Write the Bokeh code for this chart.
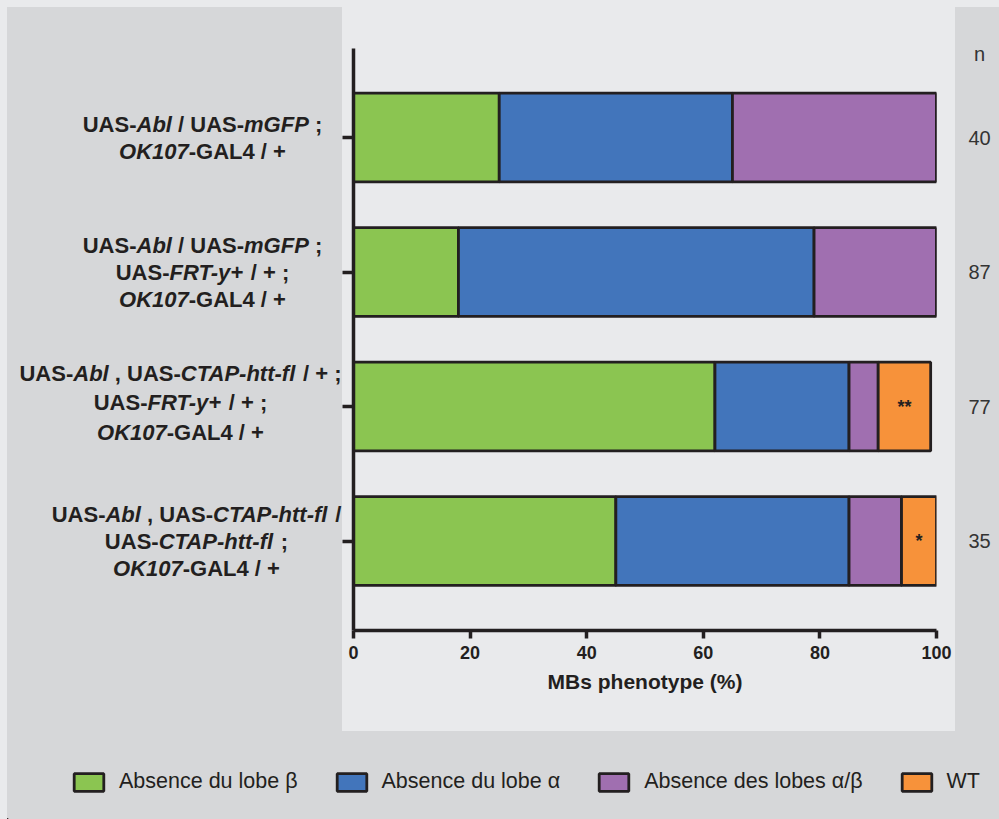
import re
from bokeh.plotting import figure
from bokeh.layouts import row, column
from bokeh.models import (ColumnDataSource, Range1d, FixedTicker, Legend, LegendItem, Spacer)
from bokeh.core.properties import value
from bokeh.embed import file_html
from bokeh.resources import INLINE

# ---------------- data ----------------
genotypes = [
    "UAS-<i>Abl</i> / UAS-<i>mGFP</i> ;\n<i>OK107</i>-GAL4 / +",
    "UAS-<i>Abl</i> / UAS-<i>mGFP</i> ;\nUAS-<i>FRT-y+</i> / + ;\n<i>OK107</i>-GAL4 / +",
    "UAS-<i>Abl</i> , UAS-<i>CTAP-htt-fl</i> / + ;\nUAS-<i>FRT-y+</i> / + ;\n<i>OK107</i>-GAL4 / +",
    "UAS-<i>Abl</i> , UAS-<i>CTAP-htt-fl</i> /\nUAS-<i>CTAP-htt-fl</i> ;\n<i>OK107</i>-GAL4 / +",
]
absence_beta = [25, 18, 62, 45]
absence_alpha = [40, 61, 23, 40]
absence_alpha_beta = [35, 21, 5, 9]
wild_type = [0, 0, 9, 6]
n_values = [40, 87, 77, 35]
n_header = "n"
significance = ["", "", "**", "*"]
series_labels = ["Absence du lobe β", "Absence du lobe α", "Absence des lobes α/β", "WT"]
x_ticks = [0, 20, 40, 60, 80, 100]
x_title = "MBs phenotype (%)"

# ---------------- style ----------------
COLORS = ["#8bc551", "#4275bb", "#a06fb0", "#f7923a"]
INK = "#231f20"
OUTER = "#d6d7d9"
PANEL = "#e9eaec"
FONT = "Liberation Sans"

W, H = 999, 819
STRIP = 7                                     # light strip at top/left
PANEL_L, PANEL_R, PANEL_B = 342, 955, 731   # light panel in page px
FL, FR, FT, FB = 353, 936, 48, 630          # frame edges in page px
ROW_H = PANEL_B - STRIP
BT, BB = FT - STRIP, PANEL_B - FB            # top / bottom borders of the row figures
X0, X1 = 0, 100
Y_TOP, Y_BOT = -0.662, 3.665


def dy(py):
    return Y_TOP + (py - FT) * (Y_BOT - Y_TOP) / (FB - FT)


def bare(width, height, xr, yr, fill, bt=0, bb=0):
    f = figure(width=width, height=height, output_backend="svg", toolbar_location=None,
               x_range=xr, y_range=yr, x_axis_location=None, y_axis_location=None,
               min_border_left=0, min_border_right=0, min_border_top=bt, min_border_bottom=bb,
               styles={"background-color": fill})
    f.background_fill_color = fill
    f.border_fill_color = fill
    f.outline_line_color = None
    f.grid.visible = False
    return f


# ---------------- main chart ----------------
yr = Range1d(Y_BOT, Y_TOP)
p = figure(width=PANEL_R - PANEL_L, height=ROW_H, output_backend="svg", toolbar_location=None,
           x_range=Range1d(X0, X1), y_range=yr,
           min_border_left=FL - PANEL_L, min_border_right=PANEL_R - FR,
           min_border_top=BT, min_border_bottom=BB, styles={"background-color": PANEL})
p.border_fill_color = PANEL
p.background_fill_color = PANEL
p.outline_line_color = None
p.grid.visible = False

ys = list(range(len(genotypes)))
src = ColumnDataSource(dict(y=ys, g=absence_beta, b=absence_alpha, p=absence_alpha_beta,
                            w=wild_type))
p.hbar_stack(["g", "b", "p", "w"], y="y", height=0.66, source=src, color=COLORS,
             line_color=INK, line_width=2.8)

xa = p.xaxis[0]
xa.ticker = FixedTicker(ticks=x_ticks)
xa.axis_line_width = 3.5
xa.axis_line_color = INK
xa.major_tick_line_width = 3.5
xa.major_tick_line_color = INK
xa.major_tick_in = 0
xa.major_tick_out = 8
xa.minor_tick_line_color = None
xa.major_label_text_font = FONT
xa.major_label_text_font_style = "bold"
xa.major_label_text_font_size = "18px"
xa.major_label_text_color = INK
xa.major_label_standoff = 7
xa.axis_label = x_title
xa.axis_label_text_font = FONT
xa.axis_label_text_font_style = "bold"
xa.axis_label_text_font_size = "21px"
xa.axis_label_text_color = INK
xa.axis_label_standoff = 8

ya = p.yaxis[0]
ya.ticker = FixedTicker(ticks=ys)
ya.major_label_overrides = {i: "" for i in ys}
ya.major_label_text_font_size = "0px"
ya.major_label_standoff = 0
ya.axis_line_width = 3.5
ya.axis_line_color = INK
ya.major_tick_line_width = 3.5
ya.major_tick_line_color = INK
ya.major_tick_in = 0
ya.major_tick_out = 11
ya.minor_tick_line_color = None

# significance stars on the WT segments
sx, sy, st = [], [], []
for i in ys:
    if significance[i]:
        left = absence_beta[i] + absence_alpha[i] + absence_alpha_beta[i]
        sx.append(left + wild_type[i] / 2.0)
        sy.append(i)
        st.append(significance[i])
p.text(x="x", y="y", text="t", source=ColumnDataSource(dict(x=sx, y=sy, t=st)),
       text_font=value(FONT), text_font_size="18px", text_font_style="bold",
       text_color=INK, text_align="center", text_baseline="middle")

# ---------------- genotype labels (left) ----------------
AFM = {' ': 278, '+': 584, ',': 278, '-': 333, '/': 278, ';': 333,
       'A': 722, 'B': 722, 'C': 722, 'D': 722, 'E': 667, 'F': 611, 'G': 778, 'H': 722,
       'I': 278, 'J': 556, 'K': 722, 'L': 611, 'M': 833, 'N': 722, 'O': 778, 'P': 667,
       'Q': 778, 'R': 722, 'S': 667, 'T': 611, 'U': 722, 'V': 667, 'W': 944, 'X': 667,
       'Y': 667, 'Z': 611, 'a': 556, 'b': 611, 'c': 556, 'd': 611, 'e': 556, 'f': 333,
       'g': 611, 'h': 611, 'i': 278, 'j': 278, 'k': 556, 'l': 278, 'm': 889, 'n': 611,
       'o': 611, 'p': 611, 'q': 611, 'r': 389, 's': 556, 't': 333, 'u': 611, 'v': 556,
       'w': 778, 'x': 556, 'y': 556, 'z': 500}
for ch in "0123456789":
    AFM[ch] = 556

LSIZE = 22
label_cx = [202, 202, 180, 196]     # page px centre of each label block
label_gap = [27, 27, 29.5, 27]       # line spacing px
label_shift = [0, 0, -4, 0]          # vertical shift px


def tw(s):
    return sum(AFM.get(c, 556) for c in s) * LSIZE / 1000.0


pl = bare(PANEL_L - STRIP, ROW_H, Range1d(STRIP, PANEL_L), yr, OUTER, BT, BB)

seg = {False: dict(x=[], y=[], t=[]), True: dict(x=[], y=[], t=[])}
for i, g in enumerate(genotypes):
    lines = g.split("\n")
    n = len(lines)
    center_py = FT + (ys[i] - Y_TOP) * (FB - FT) / (Y_BOT - Y_TOP)
    for k, line in enumerate(lines):
        pieces = []
        for s in re.split(r"(<i>.*?</i>)", line):
            if not s:
                continue
            if s.startswith("<i>"):
                pieces.append((s[3:-4], True))
            else:
                pieces.append((s, False))
        total = sum(tw(t) for t, _ in pieces)
        xcur = label_cx[i] - total / 2.0
        py = center_py + (k - (n - 1) / 2.0) * label_gap[i] + label_shift[i]
        for t, it in pieces:
            lead = len(t) - len(t.lstrip(" "))
            stt = t.strip(" ")
            if stt:
                seg[it]["x"].append(xcur + tw(" " * lead))
                seg[it]["y"].append(dy(py))
                seg[it]["t"].append(stt)
            xcur += tw(t)

for it in (False, True):
    pl.text(x="x", y="y", text="t", source=ColumnDataSource(seg[it]),
            text_font=value(FONT), text_font_size=f"{LSIZE}px",
            text_font_style="bold italic" if it else "bold",
            text_color=INK, text_align="left", text_baseline="middle")

# ---------------- n column (right) ----------------
pr = bare(W - PANEL_R, ROW_H, Range1d(PANEL_R, W), yr, OUTER, BT, BB)
NX = 979
pr.text(x=[NX] * (len(ys) + 1), y=[dy(53)] + ys, text=[n_header] + [str(v) for v in n_values],
        text_font=value(FONT), text_font_size="20px", text_color="#333333",
        text_align="center", text_baseline="middle")

# ---------------- legend (bottom) ----------------
LH = H - PANEL_B
pb = bare(W - STRIP, LH, Range1d(STRIP, W), Range1d(0, LH), OUTER)
items = []
for c, lab in zip(COLORS, series_labels):
    # one off-view swatch per series so that the legend can draw its key
    r = pb.hbar(y=[-10 * LH], right=[1], height=1, fill_color=c, line_color=INK, line_width=2.8)
    items.append(LegendItem(label=lab, renderers=[r]))
lg = Legend(items=items, orientation="horizontal", location=(70 - STRIP, LH - (794 - PANEL_B)),
            padding=0, margin=0, spacing=35, glyph_width=37, glyph_height=22,
            label_standoff=12, label_text_font=FONT, label_text_font_size="21.5px",
            label_text_color=INK, border_line_color=None, background_fill_alpha=0)
pb.add_layout(lg)

top = row(Spacer(width=STRIP, height=ROW_H, styles={"background-color": PANEL}), pl, p, pr,
          styles={"background-color": OUTER})
bottom = row(Spacer(width=STRIP, height=LH, styles={"background-color": PANEL}), pb,
             styles={"background-color": OUTER})
layout = column(Spacer(width=W, height=STRIP, styles={"background-color": PANEL}), top, bottom,
                styles={"background-color": OUTER})
open("out.html", "w").write(file_html(layout, INLINE))
